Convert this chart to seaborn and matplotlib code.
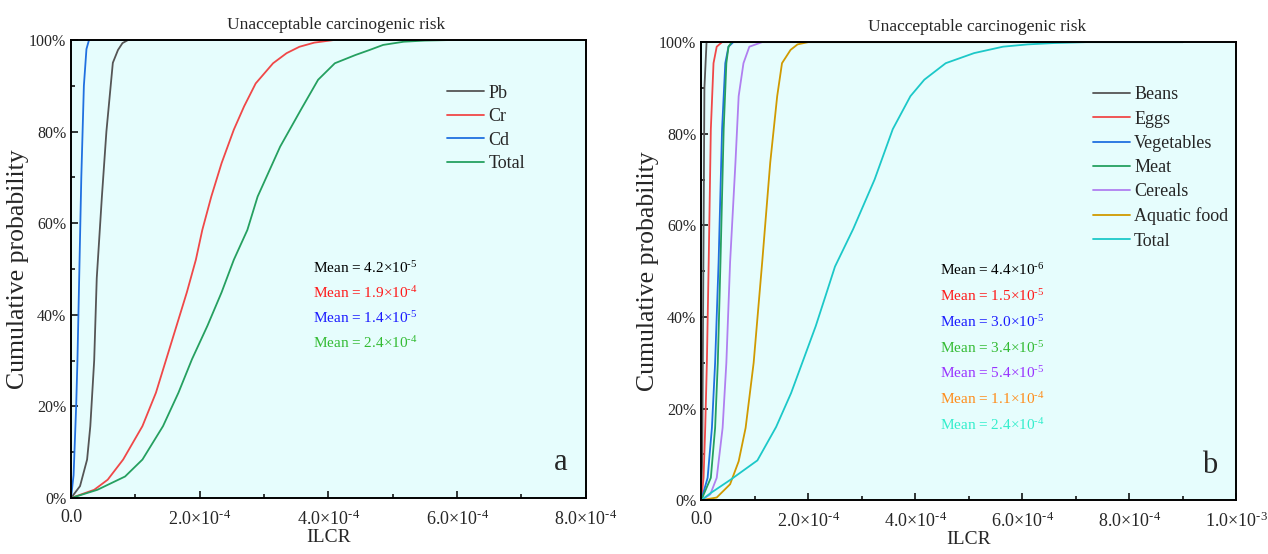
import numpy as np
import pandas as pd
import seaborn as sns
import matplotlib
matplotlib.use("Agg")
import matplotlib.pyplot as plt
from matplotlib.ticker import MultipleLocator, FuncFormatter

# x values are in units of 1e-4 (ILCR), p is cumulative probability in %
SCALE = 1e-4

# panel a: by metal
pb_x = [0, 0.14, 0.25, 0.30, 0.36, 0.40, 0.48, 0.55, 0.65, 0.73, 0.80, 0.89, 8.0]
pb_p = [0, 2.6, 8.4, 15.7, 30, 48, 65.8, 80, 95, 97.8, 99.3, 100, 100]
cr_x = [0, 0.36, 0.57, 0.81, 1.11, 1.32, 1.48, 1.64, 1.80, 1.94, 2.04, 2.18,
        2.34, 2.53, 2.69, 2.87, 3.14, 3.35, 3.55, 3.78, 4.1, 8.0]
cr_p = [0, 1.8, 4, 8.4, 15.7, 23, 30.3, 37.6, 44.9, 52, 58.5, 65.8,
        73.1, 80.4, 85.5, 90.5, 94.9, 97.1, 98.5, 99.4, 100, 100]
cd_x = [0, 0.04, 0.08, 0.10, 0.13, 0.16, 0.20, 0.24, 0.28, 8.0]
cd_p = [0, 5, 20, 30, 50, 70, 90, 98, 100, 100]
tot_a_x = [0, 0.41, 0.84, 1.11, 1.43, 1.67, 1.88, 2.12, 2.34, 2.53, 2.74, 2.90,
           3.25, 3.57, 3.84, 4.10, 4.42, 4.64, 4.85, 5.17, 5.5, 6.0, 8.0]
tot_a_p = [0, 1.8, 4.7, 8.4, 15.7, 23, 30.3, 37.6, 44.9, 52, 58.5, 65.8,
           76.7, 84.7, 91.3, 94.9, 96.7, 97.8, 98.9, 99.6, 99.85, 100, 100]

# panel b: by food
beans_x = [0, 0.02, 0.04, 0.06, 0.10, 9.0]
beans_p = [0, 10, 50, 90, 100, 100]
eggs_x = [0, 0.044, 0.075, 0.106, 0.14, 0.18, 0.23, 0.29, 0.39, 9.0]
eggs_p = [0, 4.9, 15.8, 30, 52, 81, 95.4, 99, 100, 100]
veg_x = [0, 0.12, 0.20, 0.26, 0.325, 0.39, 0.45, 0.51, 0.60, 9.0]
veg_p = [0, 4.9, 15.8, 30, 52, 81, 95.4, 99, 100, 100]
meat_x = [0, 0.18, 0.26, 0.31, 0.36, 0.42, 0.47, 0.51, 0.57, 9.0]
meat_p = [0, 4.9, 15.8, 30, 52, 81, 95.4, 99, 100, 100]
cer_x = [0, 0.17, 0.29, 0.40, 0.47, 0.54, 0.64, 0.70, 0.79, 0.90, 1.14, 9.0]
cer_p = [0, 1.3, 4.9, 15.8, 30, 52, 73.7, 88.2, 95.4, 99, 100, 100]
aqua_x = [0, 0.29, 0.54, 0.70, 0.83, 0.98, 1.14, 1.29, 1.42, 1.51, 1.67, 1.8, 2.0, 9.0]
aqua_p = [0, 0.6, 3.5, 8.5, 15.8, 30, 52, 73.7, 88.2, 95.4, 98.3, 99.5, 100, 100]
tot_b_x = [0, 0.18, 0.55, 1.05, 1.40, 1.68, 1.91, 2.14, 2.34, 2.50, 2.84, 3.24,
           3.58, 3.91, 4.17, 4.57, 5.1, 5.64, 6.1, 6.6, 7.2, 9.0]
tot_b_p = [0, 1.6, 4.5, 8.7, 16, 23.4, 30.7, 38, 45.2, 51, 59.2, 70,
           81, 88.2, 91.8, 95.4, 97.6, 99, 99.5, 99.8, 100, 100]

labels_a = ["Pb", "Cr", "Cd", "Total"]
colors_a = ["#555555", "#f04848", "#2070e0", "#25a060"]
means_a = ["4.2", "1.9", "1.4", "2.4"]
mean_exp_a = ["5", "4", "5", "4"]
mean_colors_a = ["black", "#ff1a1a", "#1a1aff", "#33bb33"]

labels_b = ["Beans", "Eggs", "Vegetables", "Meat", "Cereals", "Aquatic food", "Total"]
colors_b = ["#555555", "#f04848", "#2070e0", "#25a060", "#b07ff0", "#d09a00", "#1cc8c8"]
means_b = ["4.4", "1.5", "3.0", "3.4", "5.4", "1.1", "2.4"]
mean_exp_b = ["6", "5", "5", "5", "5", "4", "4"]
mean_colors_b = ["black", "#ff1a1a", "#1a1aff", "#33bb33", "#9933ff", "#ff8c1a", "#33eecc"]

series_a = [(pb_x, pb_p), (cr_x, cr_p), (cd_x, cd_p), (tot_a_x, tot_a_p)]
series_b = [(beans_x, beans_p), (eggs_x, eggs_p), (veg_x, veg_p), (meat_x, meat_p),
            (cer_x, cer_p), (aqua_x, aqua_p), (tot_b_x, tot_b_p)]

sns.set_theme(style="ticks")
plt.rcParams["font.family"] = ["Liberation Serif", "DejaVu Serif"]
plt.rcParams["mathtext.fontset"] = "custom"
plt.rcParams["mathtext.rm"] = "Liberation Serif"
plt.rcParams["mathtext.it"] = "Liberation Serif:italic"
plt.rcParams["mathtext.bf"] = "Liberation Serif:bold"

fig = plt.figure(figsize=(12.68, 5.54), dpi=100)
ax_a = fig.add_axes([0.056, 0.101, 0.406, 0.827])
ax_b = fig.add_axes([0.553, 0.097, 0.422, 0.827])

HY = "\u2010"  # short hyphen used as exponent sign in the original


def sci_fmt(v, pos):
    if abs(v) < 1e-12:
        return "0.0"
    e = int(np.floor(np.log10(abs(v)) + 1e-9))
    m = v / 10 ** e
    return r"%.1f$\times$10$^{\mathrm{%s%d}}$" % (m, HY, -e)


def draw(ax, series, labels, colors, means, exps, mcolors, xmax, letter,
         leg_xy, txt_x, txt_y0, txt_dy, leg_space):
    ax.set_facecolor("#e6fdfd")
    for (x, p), lab, col in zip(series, labels, colors):
        sns.lineplot(x=np.array(x) * SCALE, y=p, ax=ax, color=col, label=lab,
                     linewidth=1.3, estimator=None, sort=False)
    ax.set_xlim(0, xmax)
    ax.set_ylim(0, 100)
    ax.xaxis.set_major_locator(MultipleLocator(2e-4))
    ax.xaxis.set_minor_locator(MultipleLocator(1e-4))
    ax.xaxis.set_major_formatter(FuncFormatter(sci_fmt))
    ax.yaxis.set_major_locator(MultipleLocator(20))
    ax.yaxis.set_minor_locator(MultipleLocator(10))
    ax.yaxis.set_major_formatter(FuncFormatter(lambda v, pos: "%d%%" % v))
    ax.tick_params(which="both", direction="in", labelsize=11.5, width=1.1,
                   color="black", top=False, right=False)
    ax.tick_params(which="major", length=5)
    ax.tick_params(which="minor", length=3)
    ax.tick_params(axis="x", pad=8, labelsize=13)
    for s in ax.spines.values():
        s.set_color("black")
        s.set_linewidth(1.4)
        s.set_visible(True)
    ax.set_xlabel("ILCR", fontsize=14, labelpad=0)
    ax.set_ylabel("Cumulative probability", fontsize=18.5, labelpad=0)
    ax.set_title("Unacceptable carcinogenic risk", fontsize=12.5, pad=8, x=0.515)
    leg = ax.legend(loc="upper left", bbox_to_anchor=leg_xy, frameon=False,
                    fontsize=13, handlelength=2.05, handletextpad=0.25,
                    labelspacing=leg_space, borderaxespad=0)
    for ln in leg.get_lines():
        ln.set_linewidth(1.3)
    for i, (m, e, c) in enumerate(zip(means, exps, mcolors)):
        ax.text(txt_x, txt_y0 - i * txt_dy,
                r"Mean = %s$\times$10$^{\mathrm{%s%s}}$" % (m, HY, e),
                transform=ax.transAxes, color=c, fontsize=11,
                ha="left", va="center")
    ax.text(0.965, 0.045, letter, transform=ax.transAxes, fontsize=22,
            ha="right", va="bottom")


draw(ax_a, series_a, labels_a, colors_a, means_a, mean_exp_a, mean_colors_a,
     8e-4, "a", (0.716, 0.918), 0.47, 0.502, 0.0545, 0.36)
draw(ax_b, series_b, labels_b, colors_b, means_b, mean_exp_b, mean_colors_b,
     1e-3, "b", (0.718, 0.919), 0.447, 0.502, 0.0563, 0.4)

fig.savefig("out.png", dpi=100, facecolor="white")
